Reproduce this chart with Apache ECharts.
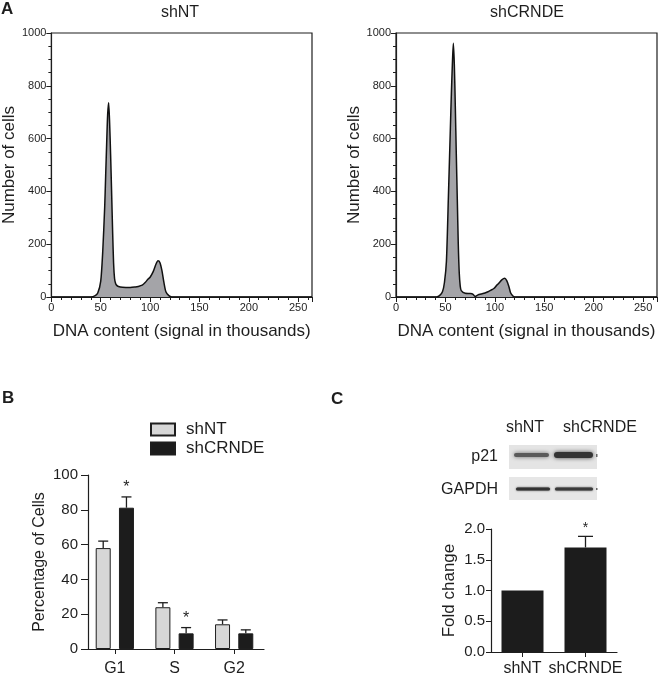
<!DOCTYPE html>
<html><head><meta charset="utf-8">
<script src="https://cdn.jsdelivr.net/npm/echarts@6/dist/echarts.min.js"></script>
<style>html,body{margin:0;padding:0;background:#fff}#c{width:660px;height:677px}</style>
</head><body><div id="c"></div>
<script>
// ---------- DATA ----------
// Panel A: DNA content histograms (x in thousands, y = number of cells)
const dnaShNT   = [0, 40, 44, 47, 50, 52, 54, 55, 56, 57, 58, 59, 60, 61, 62, 63, 64, 65, 66, 68, 72, 80, 85, 88, 92, 95, 98, 100, 103, 106, 108, 110, 112, 114, 116, 119, 122, 264];
const cellsShNT = [0, 0, 4, 15, 60, 170, 340, 460, 580, 690, 736, 660, 540, 400, 254, 130, 70, 52, 45, 40, 37, 36, 38, 40, 45, 55, 68, 75, 95, 125, 137, 130, 100, 55, 20, 5, 0, 0];

const dnaShCRNDE   = [0, 41, 44, 47, 49, 51, 53, 55, 56, 57, 58, 59, 60, 61, 62, 63, 64, 65, 66, 70, 75, 78, 80, 83, 86, 90, 93, 96, 99, 102, 104, 107, 110, 112, 114, 116, 118, 120, 264];
const cellsShCRNDE = [0, 0, 5, 20, 55, 135, 380, 640, 770, 880, 961, 880, 720, 540, 370, 200, 90, 40, 24, 14, 13, 10, 2, 8, 11, 15, 20, 26, 32, 45, 52, 65, 71, 62, 42, 15, 5, 0, 0];

const histXTicks = [0, 50, 100, 150, 200, 250];
const histYTicks = [0, 200, 400, 600, 800, 1000];

// Panel B: cell-cycle distribution (%)
const phases       = ['G1', 'S', 'G2'];
const pctShNT      = [58, 24, 14.2];
const errShNT      = [4, 2.6, 2.5];
const pctShCRNDE   = [81.2, 9, 9];
const errShCRNDE   = [6.2, 3.3, 2];
const sigShCRNDE   = [1, 1, 0];

// Panel C: p21 fold change
const groupsC      = ['shNT', 'shCRNDE'];
const foldChange   = [1.0, 1.7];
const foldErr      = [0, 0.18];
const foldSig      = [0, 1];

// ---------- STYLE ----------
const FONT = '"Liberation Sans", Arial, Helvetica, sans-serif';
const INK = '#1e1e1e';

const chart = echarts.init(document.getElementById('c'), null, {renderer: 'canvas'});

function histX(gi) {
  return {
    type: 'value', gridIndex: gi, min: 0, max: 264, interval: 50,
    axisLine: {show: true, onZero: false, lineStyle: {color: INK, width: 1.2}},
    axisTick: {show: true, length: 5, lineStyle: {color: INK, width: 1}},
    minorTick: {show: true, splitNumber: 5, length: 3, lineStyle: {color: INK, width: 1}},
    splitLine: {show: false}, minorSplitLine: {show: false},
    axisLabel: {fontSize: 11, color: INK, margin: 5, fontFamily: FONT,
      formatter: v => histXTicks.indexOf(v) >= 0 ? String(v) : ''},
    name: 'DNA content (signal in thousands)', nameLocation: 'middle', nameGap: 26,
    nameTextStyle: {fontSize: 17, color: INK, fontFamily: FONT}
  };
}
function histY(gi) {
  return {
    type: 'value', gridIndex: gi, min: 0, max: 1000, interval: 200,
    axisLine: {show: true, onZero: false, lineStyle: {color: INK, width: 1.2}},
    axisTick: {show: true, length: 5, lineStyle: {color: INK, width: 1}},
    minorTick: {show: true, splitNumber: 4, length: 3, lineStyle: {color: INK, width: 1}},
    splitLine: {show: false}, minorSplitLine: {show: false},
    axisLabel: {fontSize: 11, color: INK, margin: 5, fontFamily: FONT,
      formatter: v => histYTicks.indexOf(v) >= 0 ? String(v) : ''},
    name: 'Number of cells', nameLocation: 'middle', nameGap: 29,
    nameTextStyle: {fontSize: 17, color: INK, fontFamily: FONT}
  };
}
function histSeries(name, xs, ys, idx) {
  return {
    type: 'line', name: name, xAxisIndex: idx, yAxisIndex: idx,
    data: xs.map((x, i) => [x, ys[i]]),
    smooth: 0.25, symbol: 'none', silent: true,
    lineStyle: {color: '#111', width: 1.5},
    areaStyle: {color: '#a4a4a8', opacity: 1}
  };
}
function errRender(offset, capW, starSize) {
  return function (params, api) {
    const cat = api.value(0), v = api.value(1), e = api.value(2), s = api.value(3);
    const base = api.coord([cat, v]);
    const top = api.coord([cat, v + e]);
    const cx = base[0] + offset;
    const children = [];
    if (e > 0) {
      children.push({type: 'line', shape: {x1: cx, y1: base[1], x2: cx, y2: top[1]}, style: {stroke: INK, lineWidth: 1.3}});
      children.push({type: 'line', shape: {x1: cx - capW / 2, y1: top[1], x2: cx + capW / 2, y2: top[1]}, style: {stroke: INK, lineWidth: 1.3}});
    }
    if (s) {
      children.push({type: 'text', x: cx, y: top[1] - 1,
        style: {text: '*', fontSize: starSize, fill: INK, align: 'center', verticalAlign: 'bottom', fontFamily: FONT}});
    }
    return {type: 'group', children: children};
  };
}
function catX(gi, data, fontSize, margin) {
  return {
    type: 'category', gridIndex: gi, data: data,
    axisLine: {show: true, onZero: false, lineStyle: {color: INK, width: 1.2}},
    axisTick: {show: true, alignWithLabel: true, length: 5, lineStyle: {color: INK}},
    axisLabel: {fontSize: fontSize, color: INK, margin: margin, fontFamily: FONT, interval: 0},
    splitLine: {show: false}
  };
}

const BAR_W = 15, BAR_GAP_PX = 8.25;
const OFF = (BAR_W + BAR_GAP_PX) / 2;

const option = {
  backgroundColor: '#fff',
  animation: false,
  textStyle: {fontFamily: FONT},
  grid: [
    {left: 49, top: 33, width: 263, height: 264, show: true, borderColor: INK, borderWidth: 1.2, backgroundColor: 'transparent'},
    {left: 396, top: 33, width: 262, height: 264, show: true, borderColor: INK, borderWidth: 1.2, backgroundColor: 'transparent'},
    {left: 85, top: 475, width: 179, height: 174},
    {left: 491, top: 529, width: 126, height: 124}
  ],
  legend: {
    data: ['shNT', 'shCRNDE'], orient: 'vertical', left: 145, top: 416,
    itemWidth: 24, itemHeight: 12, itemGap: 2, icon: 'rect', selectedMode: false,
    textStyle: {fontSize: 17, color: INK, fontFamily: FONT, padding: [0, 0, 0, 6]}
  },
  xAxis: [
    histX(0), histX(1),
    catX(2, phases, 16, 12),
    catX(3, groupsC, 16, 9)
  ],
  yAxis: [
    histY(0), histY(1),
    {
      type: 'value', gridIndex: 2, min: 0, max: 100, interval: 20, offset: -3,
      axisLine: {show: true, lineStyle: {color: INK, width: 1.2}},
      axisTick: {show: true, length: 7, lineStyle: {color: INK}},
      splitLine: {show: false},
      axisLabel: {fontSize: 15, color: INK, margin: 10, fontFamily: FONT},
      name: 'Percentage of Cells', nameLocation: 'middle', nameGap: 40,
      nameTextStyle: {fontSize: 16, color: INK, fontFamily: FONT}
    },
    {
      type: 'value', gridIndex: 3, min: 0, max: 2, interval: 0.5,
      axisLine: {show: true, lineStyle: {color: INK, width: 1.2}},
      axisTick: {show: true, length: 5, lineStyle: {color: INK}},
      splitLine: {show: false},
      axisLabel: {fontSize: 15, color: INK, margin: 6, fontFamily: FONT, formatter: v => v.toFixed(1)},
      name: 'Fold change', nameLocation: 'middle', nameGap: 33,
      nameTextStyle: {fontSize: 17, color: INK, fontFamily: FONT}
    }
  ],
  series: [
    histSeries('shNT histogram', dnaShNT, cellsShNT, 0),
    histSeries('shCRNDE histogram', dnaShCRNDE, cellsShCRNDE, 1),
    {
      type: 'bar', name: 'shNT', xAxisIndex: 2, yAxisIndex: 2, data: pctShNT,
      barWidth: BAR_W, barGap: (BAR_GAP_PX / BAR_W * 100) + '%',
      itemStyle: {color: '#d7d7d7', borderColor: INK, borderWidth: 1}, silent: true
    },
    {
      type: 'bar', name: 'shCRNDE', xAxisIndex: 2, yAxisIndex: 2, data: pctShCRNDE,
      barWidth: BAR_W, barGap: (BAR_GAP_PX / BAR_W * 100) + '%',
      itemStyle: {color: '#1c1c1c', borderColor: INK, borderWidth: 1}, silent: true
    },
    {
      type: 'custom', name: 'err shNT', xAxisIndex: 2, yAxisIndex: 2, z: 5,
      data: pctShNT.map((v, i) => [i, v, errShNT[i], 0]),
      encode: {x: 0, y: 1}, renderItem: errRender(-OFF, 10, 16), silent: true
    },
    {
      type: 'custom', name: 'err shCRNDE', xAxisIndex: 2, yAxisIndex: 2, z: 5,
      data: pctShCRNDE.map((v, i) => [i, v, errShCRNDE[i], sigShCRNDE[i]]),
      encode: {x: 0, y: 1}, renderItem: errRender(OFF, 10, 16), silent: true
    },
    {
      type: 'bar', name: 'Fold change', xAxisIndex: 3, yAxisIndex: 3, data: foldChange,
      barWidth: 42, itemStyle: {color: '#1c1c1c'}, silent: true
    },
    {
      type: 'custom', name: 'err fold', xAxisIndex: 3, yAxisIndex: 3, z: 5,
      data: foldChange.map((v, i) => [i, v, foldErr[i], foldSig[i]]),
      encode: {x: 0, y: 1}, renderItem: errRender(0, 15, 14), silent: true
    }
  ],
  graphic: [
    {type: 'text', x: 1, y: 1, style: {text: 'A', fontSize: 17, fontWeight: 'bold', fill: INK, fontFamily: FONT}},
    {type: 'text', x: 180, y: 13, style: {text: 'shNT', fontSize: 16, fill: INK, align: 'center', verticalAlign: 'middle', fontFamily: FONT}},
    {type: 'text', x: 527, y: 13, style: {text: 'shCRNDE', fontSize: 16, fill: INK, align: 'center', verticalAlign: 'middle', fontFamily: FONT}},
    {type: 'text', x: 2, y: 390, style: {text: 'B', fontSize: 17, fontWeight: 'bold', fill: INK, fontFamily: FONT}},
    {type: 'text', x: 331, y: 391, style: {text: 'C', fontSize: 17, fontWeight: 'bold', fill: INK, fontFamily: FONT}},
    // western blot image area
    {type: 'text', x: 525, y: 428, style: {text: 'shNT', fontSize: 16, fill: INK, align: 'center', verticalAlign: 'middle', fontFamily: FONT}},
    {type: 'text', x: 600, y: 428, style: {text: 'shCRNDE', fontSize: 16, fill: INK, align: 'center', verticalAlign: 'middle', fontFamily: FONT}},
    {type: 'text', x: 498, y: 457, style: {text: 'p21', fontSize: 16, fill: INK, align: 'right', verticalAlign: 'middle', fontFamily: FONT}},
    {type: 'text', x: 498, y: 490, style: {text: 'GAPDH', fontSize: 16, fill: INK, align: 'right', verticalAlign: 'middle', fontFamily: FONT}},
    {type: 'rect', shape: {x: 509, y: 445, width: 88, height: 24}, style: {fill: '#e4e4e4'}},
    {type: 'rect', shape: {x: 509, y: 477, width: 88, height: 23}, style: {fill: '#e6e6e6'}},
    {type: 'rect', shape: {x: 514, y: 453, width: 35, height: 4, r: 2}, style: {fill: '#5a5a5a', shadowBlur: 4, shadowColor: '#6a6a6a'}},
    {type: 'rect', shape: {x: 554, y: 452, width: 39, height: 6, r: 3}, style: {fill: '#333', shadowBlur: 4, shadowColor: '#444'}},
    {type: 'rect', shape: {x: 516, y: 487.5, width: 34, height: 3, r: 1.5}, style: {fill: '#333', shadowBlur: 2, shadowColor: '#444'}},
    {type: 'rect', shape: {x: 555, y: 487.5, width: 38, height: 3, r: 1.5}, style: {fill: '#3a3a3a', shadowBlur: 2, shadowColor: '#444'}},
    {type: 'rect', shape: {x: 596, y: 454, width: 1.5, height: 3}, style: {fill: '#666'}},
    {type: 'rect', shape: {x: 596, y: 488, width: 1.5, height: 2}, style: {fill: '#666'}}
  ]
};
chart.setOption(option);
</script></body></html>
